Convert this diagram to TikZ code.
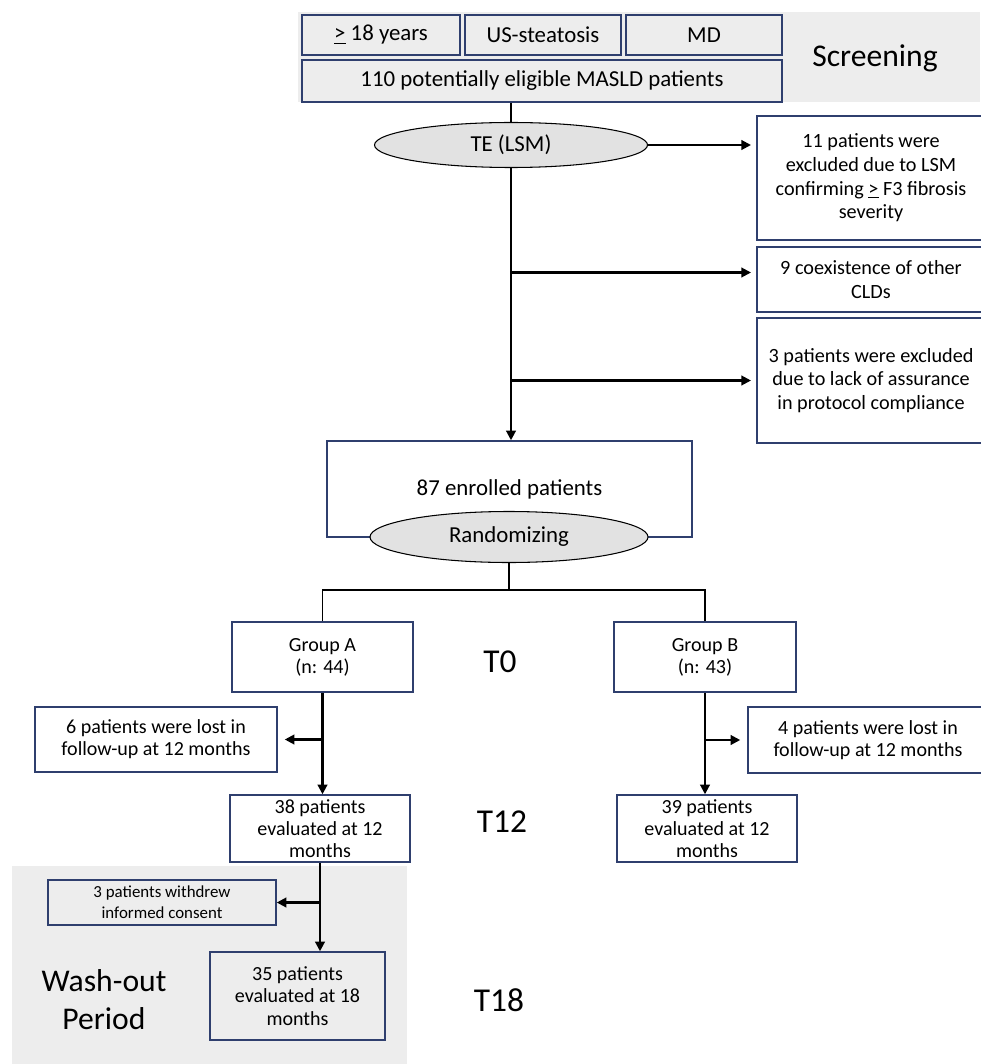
\documentclass[tikz,border=0pt]{standalone}
\usepackage{fontspec}
\setmainfont{Carlito}
\usetikzlibrary{shapes,arrows.meta,calc}
\definecolor{boxnavy}{HTML}{2F3F6E}
\definecolor{bggray}{HTML}{EDEDED}
\definecolor{ellgray}{HTML}{E2E2E2}

\begin{document}
\begin{tikzpicture}[
        box/.style={draw=boxnavy, line width=0.85pt, align=center, inner sep=2pt},
        oval/.style={ellipse, draw=black, line width=0.6pt, fill=ellgray, inner sep=0pt},
        flow/.style={-{Triangle[length=5.5pt,width=5.5pt]}, line width=1.2pt},
        split/.style={line width=0.6pt},
        timept/.style={font=\fontsize{19}{22}\selectfont},
        phase/.style={font=\fontsize{18}{21.5}\selectfont, align=center},
        exfont/.style={font=\fontsize{11.5}{13.5}\selectfont},
        smallfont/.style={font=\fontsize{11.4}{12.6}\selectfont},
        font=\fontsize{13}{15.5}\selectfont
    ]
        \useasboundingbox (0,0) rectangle (19.6,-21.28);

        % Screening band
        \fill[bggray] (5.96,-0.24) rectangle (19.6,-2.04);
        \node[box, minimum width=3.16cm, minimum height=0.8cm] (age) at (7.62,-0.70) {\underline{>} 18 years};
        \node[box, minimum width=3.12cm, minimum height=0.8cm] (us) at (10.86,-0.70) {US-steatosis};
        \node[box, minimum width=3.12cm, minimum height=0.8cm] (md) at (14.08,-0.70) {MD};
        \node[box, minimum width=9.6cm, minimum height=0.84cm] (pot) at (10.84,-1.62) {110 potentially eligible MASLD patients};
        \node[phase] (scr) at (17.5,-1.16) {Screening};

        % Transient elastography and exclusions
        \node[oval, minimum width=5.46cm, minimum height=0.9cm] (te) at (10.22,-2.90) {TE (LSM)};
        \node[box, fill=white, minimum width=4.56cm, minimum height=2.48cm, exfont] (ex1) at (17.42,-3.56)
            {11 patients were\\excluded due to LSM\\confirming \underline{>} F3 fibrosis\\severity};
        \node[box, fill=white, minimum width=4.56cm, minimum height=1.3cm, exfont] (ex2) at (17.42,-5.59)
            {9 coexistence of other\\CLDs};
        \node[box, fill=white, minimum width=4.56cm, minimum height=2.5cm, exfont] (ex3) at (17.42,-7.61)
            {3 patients were excluded\\due to lack of assurance\\in protocol compliance};
        \coordinate (ex2in) at ($(ex2.west)+(0,0.14)$);

        % Enrolment and randomization
        \node[box, minimum width=7.3cm, minimum height=1.92cm] (enr) at (10.19,-9.78) {87 enrolled patients};
        \node[oval, minimum width=5.56cm, minimum height=1.02cm] (rand) at (10.18,-10.74) {Randomizing};
        \coordinate (fork) at (10.18,-11.80);

        % Groups
        \node[box, minimum width=3.62cm, minimum height=1.4cm, smallfont] (grpA) at (6.45,-13.14) {Group A\\(n: 44)};
        \node[box, minimum width=3.64cm, minimum height=1.4cm, smallfont] (grpB) at (14.10,-13.14) {Group B\\(n: 43)};
        \node[timept] (t0) at (10.0,-13.24) {T0};

        \node[box, minimum width=4.84cm, minimum height=1.3cm, smallfont] (lostA) at (3.12,-14.79)
            {6 patients were lost in\\follow-up at 12 months};
        \node[box, minimum width=4.8cm, minimum height=1.32cm, smallfont] (lostB) at (17.36,-14.80)
            {4 patients were lost in\\follow-up at 12 months};

        \node[box, minimum width=3.6cm, minimum height=1.34cm, smallfont] (evalA) at (6.40,-16.57)
            {38 patients\\evaluated at 12\\months};
        \node[box, minimum width=3.6cm, minimum height=1.34cm, smallfont] (evalB) at (14.14,-16.57)
            {39 patients\\evaluated at 12\\months};
        \node[timept] (t12) at (10.04,-16.44) {T12};

        % Wash-out period
        \fill[bggray] (0.24,-17.32) rectangle (8.14,-21.28);
        \node[box, minimum width=4.56cm, minimum height=0.9cm, font=\fontsize{9.6}{12}\selectfont] (wd) at (3.24,-18.05)
            {3 patients withdrew\\informed consent};
        \node[box, minimum width=3.5cm, minimum height=1.76cm, smallfont] (evalW) at (5.95,-19.92)
            {35 patients\\evaluated at 18\\months};
        \node[phase] (wash) at (2.08,-20.0) {Wash-out\\Period};
        \node[timept] (t18) at (9.98,-20.0) {T18};

        % Connectors
        \draw[line width=1.2pt] (te.north |- pot.south) -- (te.north);
        \draw[flow, shorten >=3pt] (te.east) -- (te.east -| ex1.west);
        \draw[flow, shorten >=3pt] (ex2in -| te.south) -- (ex2in);
        \draw[flow, shorten >=3pt] (ex3.west -| te.south) -- (ex3.west);
        \draw[flow] (te.south) -- (te.south |- enr.north);

        \draw[split] (rand.south) -- (fork);
        \draw[split] (grpA.north) |- (fork) -| (grpB.north);

        \draw[flow] (grpA.south) -- (grpA.south |- evalA.north);
        \draw[flow, shorten >=4pt] (grpA.south |- lostA.east) -- (lostA.east);
        \draw[flow] (grpB.south) -- (grpB.south |- evalB.north);
        \draw[flow, shorten >=4pt] (grpB.south |- lostB.west) -- (lostB.west);

        \draw[flow] (evalA.south) -- (evalA.south |- evalW.north);
        \draw[flow] (evalA.south |- wd.east) -- (wd.east);
    \end{tikzpicture}
\end{document}
